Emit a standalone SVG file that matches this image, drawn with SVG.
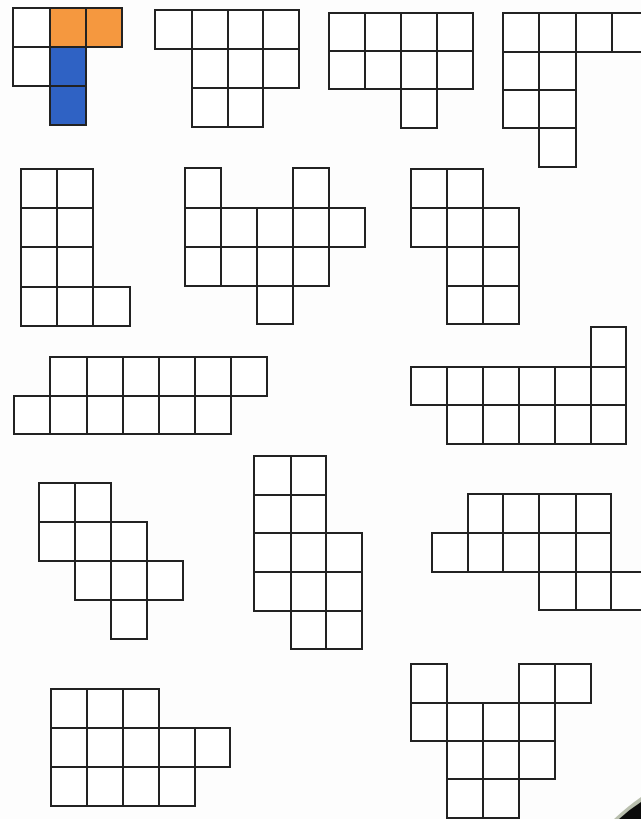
<svg xmlns="http://www.w3.org/2000/svg" width="641" height="819" viewBox="0 0 641 819">
<style>
rect{fill:#ffffff;stroke:#222222;stroke-width:2;stroke-linejoin:miter}
rect.o{fill:#f5983f}
rect.b{fill:#2f62c4}
</style>
<rect x="0" y="0" width="641" height="819" fill="#fdfdfd" stroke="none" style="fill:#fdfdfd;stroke:none"/>
<g id="shape1">
<rect x="13" y="8" width="37" height="39"/><rect class="o" x="50" y="8" width="36" height="39"/><rect class="o" x="86" y="8" width="36" height="39"/>
<rect x="13" y="47" width="37" height="39"/><rect class="b" x="50" y="47" width="36" height="39"/>
<rect class="b" x="50" y="86" width="36" height="39"/>
</g>
<g id="shape2">
<rect x="155" y="10" width="37" height="39"/><rect x="192" y="10" width="36" height="39"/><rect x="228" y="10" width="35" height="39"/><rect x="263" y="10" width="36" height="39"/>
<rect x="192" y="49" width="36" height="39"/><rect x="228" y="49" width="35" height="39"/><rect x="263" y="49" width="36" height="39"/>
<rect x="192" y="88" width="36" height="39"/><rect x="228" y="88" width="35" height="39"/>
</g>
<g id="shape3">
<rect x="329" y="13" width="36" height="38"/><rect x="365" y="13" width="36" height="38"/><rect x="401" y="13" width="36" height="38"/><rect x="437" y="13" width="36" height="38"/>
<rect x="329" y="51" width="36" height="38"/><rect x="365" y="51" width="36" height="38"/><rect x="401" y="51" width="36" height="38"/><rect x="437" y="51" width="36" height="38"/>
<rect x="401" y="89" width="36" height="39"/>
</g>
<g id="shape4">
<rect x="503" y="13" width="36" height="39"/><rect x="539" y="13" width="37" height="39"/><rect x="576" y="13" width="36" height="39"/><rect x="612" y="13" width="36" height="39"/>
<rect x="503" y="52" width="36" height="38"/><rect x="539" y="52" width="37" height="38"/>
<rect x="503" y="90" width="36" height="38"/><rect x="539" y="90" width="37" height="38"/>
<rect x="539" y="128" width="37" height="39"/>
</g>
<g id="shape5">
<rect x="21" y="169" width="36" height="39"/><rect x="57" y="169" width="36" height="39"/>
<rect x="21" y="208" width="36" height="39"/><rect x="57" y="208" width="36" height="39"/>
<rect x="21" y="247" width="36" height="40"/><rect x="57" y="247" width="36" height="40"/>
<rect x="21" y="287" width="36" height="39"/><rect x="57" y="287" width="36" height="39"/><rect x="93" y="287" width="37" height="39"/>
</g>
<g id="shape6">
<rect x="185" y="168" width="36" height="40"/><rect x="293" y="168" width="36" height="40"/>
<rect x="185" y="208" width="36" height="39"/><rect x="221" y="208" width="36" height="39"/><rect x="257" y="208" width="36" height="39"/><rect x="293" y="208" width="36" height="39"/><rect x="329" y="208" width="36" height="39"/>
<rect x="185" y="247" width="36" height="39"/><rect x="221" y="247" width="36" height="39"/><rect x="257" y="247" width="36" height="39"/><rect x="293" y="247" width="36" height="39"/>
<rect x="257" y="286" width="36" height="38"/>
</g>
<g id="shape7">
<rect x="411" y="169" width="36" height="39"/><rect x="447" y="169" width="36" height="39"/>
<rect x="411" y="208" width="36" height="39"/><rect x="447" y="208" width="36" height="39"/><rect x="483" y="208" width="36" height="39"/>
<rect x="447" y="247" width="36" height="39"/><rect x="483" y="247" width="36" height="39"/>
<rect x="447" y="286" width="36" height="38"/><rect x="483" y="286" width="36" height="38"/>
</g>
<g id="shape8">
<rect x="50" y="357" width="37" height="39"/><rect x="87" y="357" width="36" height="39"/><rect x="123" y="357" width="36" height="39"/><rect x="159" y="357" width="36" height="39"/><rect x="195" y="357" width="36" height="39"/><rect x="231" y="357" width="36" height="39"/>
<rect x="14" y="396" width="36" height="38"/><rect x="50" y="396" width="37" height="38"/><rect x="87" y="396" width="36" height="38"/><rect x="123" y="396" width="36" height="38"/><rect x="159" y="396" width="36" height="38"/><rect x="195" y="396" width="36" height="38"/>
</g>
<g id="shape9">
<rect x="591" y="327" width="35" height="40"/>
<rect x="411" y="367" width="36" height="38"/><rect x="447" y="367" width="36" height="38"/><rect x="483" y="367" width="36" height="38"/><rect x="519" y="367" width="36" height="38"/><rect x="555" y="367" width="36" height="38"/><rect x="591" y="367" width="35" height="38"/>
<rect x="447" y="405" width="36" height="39"/><rect x="483" y="405" width="36" height="39"/><rect x="519" y="405" width="36" height="39"/><rect x="555" y="405" width="36" height="39"/><rect x="591" y="405" width="35" height="39"/>
</g>
<g id="shape10">
<rect x="39" y="483" width="36" height="39"/><rect x="75" y="483" width="36" height="39"/>
<rect x="39" y="522" width="36" height="39"/><rect x="75" y="522" width="36" height="39"/><rect x="111" y="522" width="36" height="39"/>
<rect x="75" y="561" width="36" height="39"/><rect x="111" y="561" width="36" height="39"/><rect x="147" y="561" width="36" height="39"/>
<rect x="111" y="600" width="36" height="39"/>
</g>
<g id="shape11">
<rect x="254" y="456" width="37" height="39"/><rect x="291" y="456" width="35" height="39"/>
<rect x="254" y="495" width="37" height="38"/><rect x="291" y="495" width="35" height="38"/>
<rect x="254" y="533" width="37" height="39"/><rect x="291" y="533" width="35" height="39"/><rect x="326" y="533" width="36" height="39"/>
<rect x="254" y="572" width="37" height="39"/><rect x="291" y="572" width="35" height="39"/><rect x="326" y="572" width="36" height="39"/>
<rect x="291" y="611" width="35" height="38"/><rect x="326" y="611" width="36" height="38"/>
</g>
<g id="shape12">
<rect x="468" y="494" width="35" height="39"/><rect x="503" y="494" width="36" height="39"/><rect x="539" y="494" width="37" height="39"/><rect x="576" y="494" width="35" height="39"/>
<rect x="432" y="533" width="36" height="39"/><rect x="468" y="533" width="35" height="39"/><rect x="503" y="533" width="36" height="39"/><rect x="539" y="533" width="37" height="39"/><rect x="576" y="533" width="35" height="39"/>
<rect x="539" y="572" width="37" height="38"/><rect x="576" y="572" width="35" height="38"/><rect x="611" y="572" width="36" height="38"/>
</g>
<g id="shape13">
<rect x="51" y="689" width="36" height="39"/><rect x="87" y="689" width="36" height="39"/><rect x="123" y="689" width="36" height="39"/>
<rect x="51" y="728" width="36" height="39"/><rect x="87" y="728" width="36" height="39"/><rect x="123" y="728" width="36" height="39"/><rect x="159" y="728" width="36" height="39"/><rect x="195" y="728" width="35" height="39"/>
<rect x="51" y="767" width="36" height="39"/><rect x="87" y="767" width="36" height="39"/><rect x="123" y="767" width="36" height="39"/><rect x="159" y="767" width="36" height="39"/>
</g>
<g id="shape14">
<rect x="411" y="664" width="36" height="39"/><rect x="519" y="664" width="36" height="39"/><rect x="555" y="664" width="36" height="39"/>
<rect x="411" y="703" width="36" height="38"/><rect x="447" y="703" width="36" height="38"/><rect x="483" y="703" width="36" height="38"/><rect x="519" y="703" width="36" height="38"/>
<rect x="447" y="741" width="36" height="38"/><rect x="483" y="741" width="36" height="38"/><rect x="519" y="741" width="36" height="38"/>
<rect x="447" y="779" width="36" height="39"/><rect x="483" y="779" width="36" height="39"/>
</g>
<g id="connectors"/>
<path d="M614 819 Q628 806 641 797 L641 819 Z" fill="#b9bfae"/>
<path d="M619 819 Q630 809 641 802 L641 819 Z" fill="#0a0a0a"/>
</svg>
